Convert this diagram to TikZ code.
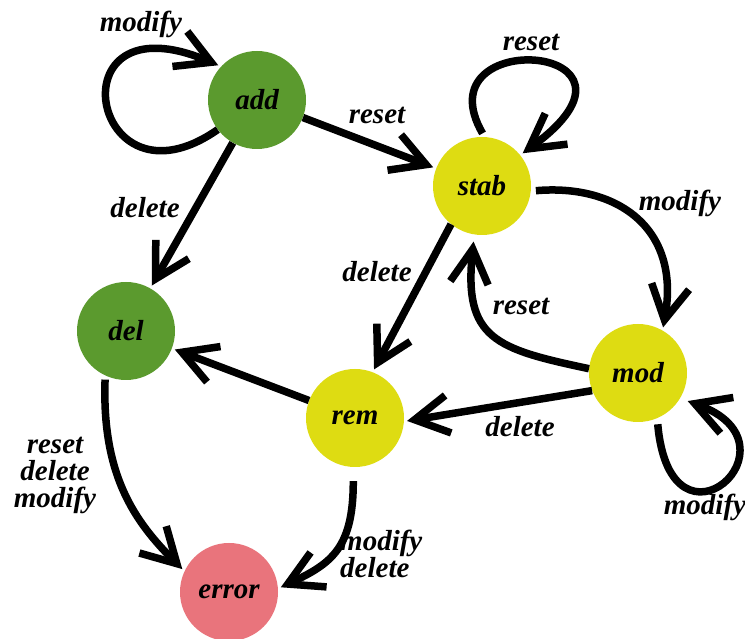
\documentclass[tikz,border=0pt]{standalone}
\usepackage{fontspec}
\setmainfont{Liberation Serif}
\usetikzlibrary{arrows.meta}
\definecolor{grn}{HTML}{5B9A2E}
\definecolor{yel}{HTML}{DEDC12}
\definecolor{pnk}{HTML}{E9747C}
\newcommand\lblfont{\fontsize{29}{27}\selectfont\bfseries\itshape}
\begin{document}
\begin{tikzpicture}[x=1pt,y=1pt,
  state/.style={circle, minimum size=98pt, inner sep=0pt, font=\lblfont},
  edge/.style={line width=7.5pt, -{Straight Barb[sharp, length=34pt, width=38pt]}, shorten >=3pt},
  lab/.style={font=\lblfont, inner sep=0pt}]
\useasboundingbox (0,0) rectangle (745,639);
\fill[white] (0,0) rectangle (745,639);
% states
\node[state, fill=grn] (add) at (257,539) {add};
\node[state, fill=yel] (stab) at (482,453) {stab};
\node[state, fill=grn] (del) at (126,308) {del};
\node[state, fill=yel] (rem) at (355,221) {rem};
\node[state, fill=yel] (mod) at (638,266) {mod};
\node[state, fill=pnk] (err) at (229,47) {error};
% transitions
\draw[edge] (add.217) .. controls +(215:155) and +(157:185) .. (add.137);
\draw[edge] (add) -- (stab);
\draw[edge] (add) -- (del);
\draw[edge, shorten <=4pt] (stab.87) .. controls +(120:130) and +(36:190) .. (stab.39);
\draw[edge, shorten <=5pt] (stab.-6) .. controls +(5:85) and +(80:105) .. (mod.60);
\draw[edge, shorten >=7pt] (mod.175) .. controls +(168:95) and +(264:105) .. (stab.261);
\draw[edge] (stab.231) -- (rem.69);
\draw[edge] (mod.201) -- (rem.-4);
\draw[edge] (rem) -- (del);
\draw[edge, shorten <=4pt] (del.245) .. controls +(268:100) and +(135:70) .. (err.155);
\draw[edge, shorten <=14pt] (rem.268) .. controls +(270:80) and +(25:60) .. (err.4);
\draw[edge, shorten <=6pt, shorten >=8pt] (mod.293) .. controls +(275:150) and +(-20:135) .. (mod.-31);
% labels
\node[lab] (l1) at (141,615) {modify};
\node[lab] (l2) at (377,524) {reset};
\node[lab] (l3) at (145,431) {delete};
\node[lab] (l4) at (531,597) {reset};
\node[lab] (l5) at (680,436) {modify};
\node[lab] (l6) at (521,333) {reset};
\node[lab] (l7) at (377,367) {delete};
\node[lab] (l8) at (520,212) {delete};
\node[lab, align=center] (l9) at (55,164) {reset\\delete\\modify};
\node[lab, align=left, anchor=west] (l10) at (340,85) {modify\\delete};
\node[lab] (l11) at (705,132) {modify};
\end{tikzpicture}
\end{document}
